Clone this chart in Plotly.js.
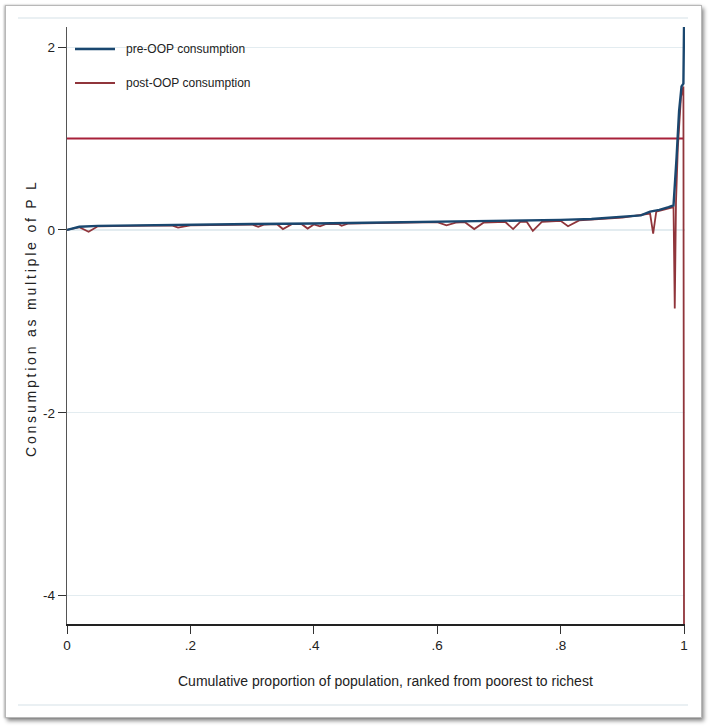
<!DOCTYPE html>
<html>
<head>
<meta charset="utf-8">
<script src="https://cdn.plot.ly/plotly-3.0.1.min.js"></script>
<style>
  html, body { margin: 0; padding: 0; background: #ffffff; }
  #wrap { position: relative; width: 709px; height: 728px; overflow: hidden; }
  #frame { position: absolute; left: 5px; top: 5px; width: 695px; height: 711px;
           border: 1px solid #b8b8b8; box-shadow: 2px 3px 4px rgba(0,0,0,0.45), -1px 0 2px rgba(0,0,0,0.25);
           background: #ffffff; }
  #plot { position: absolute; left: 0; top: 0; width: 709px; height: 728px; }
  .annotation[data-index="0"] text { letter-spacing: 2.8px; }
</style>
</head>
<body>
<div id="wrap">
  <div id="frame"></div>
  <div id="plot"></div>
</div>
<script>
// ---- data ----
var preX = [0.00, 0.01, 0.02, 0.05, 0.10, 0.20, 0.30, 0.40, 0.50, 0.60, 0.70, 0.80, 0.85, 0.90, 0.93, 0.945, 0.96, 0.975, 0.983, 0.988, 0.992, 0.996, 0.999, 1.0];
var preY = [0.00, 0.02, 0.035, 0.045, 0.05, 0.06, 0.065, 0.07, 0.08, 0.09, 0.095, 0.11, 0.12, 0.14, 0.16, 0.20, 0.22, 0.25, 0.27, 0.80, 1.30, 1.57, 1.60, 2.22];

var postX = [0.00, 0.02, 0.035, 0.05, 0.10, 0.17, 0.18, 0.20, 0.30, 0.31, 0.32, 0.34, 0.35, 0.365, 0.38, 0.39, 0.40, 0.41, 0.42, 0.44, 0.445, 0.455, 0.60, 0.615, 0.63, 0.645, 0.66, 0.675, 0.71, 0.723, 0.735, 0.745, 0.755, 0.77, 0.80, 0.812, 0.83, 0.90, 0.945, 0.95, 0.955, 0.96, 0.975, 0.983, 0.985, 0.987, 0.99, 0.995, 0.999, 1.0];
var postY = [0.00, 0.03, -0.02, 0.04, 0.045, 0.05, 0.025, 0.05, 0.06, 0.035, 0.06, 0.065, 0.01, 0.065, 0.065, 0.015, 0.06, 0.04, 0.065, 0.065, 0.045, 0.07, 0.085, 0.05, 0.08, 0.085, 0.01, 0.08, 0.09, 0.01, 0.09, 0.09, -0.01, 0.09, 0.10, 0.04, 0.105, 0.135, 0.18, -0.04, 0.20, 0.21, 0.24, 0.25, -0.86, 0.30, 0.90, 1.45, 1.57, -4.31];

var povertyLine = 1;
var seriesNames = ["pre-OOP consumption", "post-OOP consumption"];
var xTickVals = [0, 0.2, 0.4, 0.6, 0.8, 1];
var xTickText = ["0", ".2", ".4", ".6", ".8", "1"];
var yTickVals = [-4, -2, 0, 2];
var yTickText = ["-4", "-2", "0", "2"];
var xTitle = "Cumulative proportion of population, ranked from poorest to richest";
var yTitle = "Consumption as multiple of P L";

// ---- styling / layout ----
var FONT = "'Liberation Sans Narrow', 'Arial Narrow', 'Liberation Sans', Arial, sans-serif";
var BLUE = "#1a476f", RED = "#90353b", PLRED = "#a8213a";
var W = 709, H = 728, L = 67, R = 24, T = 27, B = 104;
var pw = W - L - R, ph = H - T - B;
function px(x) { return (x - L) / pw; }
function py(y) { return (H - B - y) / ph; }

var traces = [
  { x: [0, 1], y: [povertyLine, povertyLine], mode: "lines", line: { color: PLRED, width: 2 }, showlegend: false, hoverinfo: "skip" },
  { x: postX, y: postY, mode: "lines", name: seriesNames[1], line: { color: RED, width: 1.8 }, showlegend: false },
  { x: preX, y: preY, mode: "lines", name: seriesNames[0], line: { color: BLUE, width: 2.4 }, showlegend: false }
];

var layout = {
  width: W, height: H,
  margin: { l: L, r: R, t: T, b: B, pad: 0 },
  paper_bgcolor: "rgba(0,0,0,0)",
  plot_bgcolor: "rgba(0,0,0,0)",
  font: { family: FONT, size: 14, color: "#222" },
  showlegend: false,
  xaxis: {
    range: [0, 1.0016], tickvals: xTickVals, ticktext: xTickText,
    showgrid: false, zeroline: false, showline: true, linecolor: "#222", linewidth: 1.5,
    ticks: "outside", ticklen: 8, tickcolor: "#333", tickwidth: 1,
    tickfont: { family: FONT, size: 13.5, color: "#222" }, fixedrange: true
  },
  yaxis: {
    range: [-4.31, 2.22], tickvals: yTickVals, ticktext: yTickText,
    showgrid: true, gridcolor: "#e3ecf0", gridwidth: 1.2, zeroline: false,
    showline: true, linecolor: "#555", linewidth: 1.2,
    ticks: "outside", ticklen: 8, tickcolor: "#333", tickwidth: 1,
    tickfont: { family: FONT, size: 13.5, color: "#222" }, fixedrange: true
  },
  shapes: [
    { type: "line", xref: "paper", yref: "paper", x0: px(18), x1: px(688), y0: py(18), y1: py(18), line: { color: "#e3ebef", width: 1.5 } },
    { type: "line", xref: "paper", yref: "paper", x0: px(18), x1: px(688), y0: py(705), y1: py(705), line: { color: "#e3ebef", width: 1.5 } },
    { type: "line", xref: "paper", yref: "paper", x0: px(75), x1: px(115), y0: py(49), y1: py(49), line: { color: BLUE, width: 2.4 } },
    { type: "line", xref: "paper", yref: "paper", x0: px(75), x1: px(115), y0: py(83), y1: py(83), line: { color: RED, width: 1.8 } }
  ],
  annotations: [
    { text: yTitle, xref: "paper", yref: "paper", x: px(31), y: py(318), textangle: -90, showarrow: false,
      xanchor: "center", yanchor: "middle", font: { family: "'Liberation Sans', Arial, sans-serif", size: 14, color: "#222" } },
    { text: xTitle, xref: "paper", yref: "paper", x: px(385), y: py(681), showarrow: false,
      xanchor: "center", yanchor: "middle", font: { family: FONT, size: 14, color: "#222" } },
    { text: seriesNames[0], xref: "paper", yref: "paper", x: px(124), y: py(49), showarrow: false,
      xanchor: "left", yanchor: "middle", font: { family: FONT, size: 12, color: "#222" } },
    { text: seriesNames[1], xref: "paper", yref: "paper", x: px(124), y: py(83), showarrow: false,
      xanchor: "left", yanchor: "middle", font: { family: FONT, size: 12, color: "#222" } }
  ]
};

Plotly.newPlot("plot", traces, layout, { displayModeBar: false, staticPlot: true });
</script>
</body>
</html>
